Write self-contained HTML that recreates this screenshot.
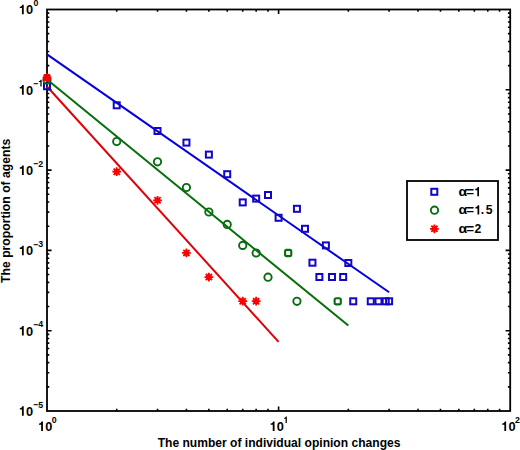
<!DOCTYPE html><html><head><meta charset="utf-8"><style>html,body{margin:0;padding:0;background:#fff;}svg{display:block}</style></head><body>
<svg width="520" height="450" viewBox="0 0 520 450" font-family="Liberation Sans, sans-serif" font-weight="bold">
<defs><path id="g1" d="M378 0V-710H268C254 -648 222 -610 160 -588C130 -578 100 -574 69 -572V-466H238V0Z"/></defs>
<rect width="520" height="450" fill="#fff"/>
<path d="M116.72 411.0v-2.3M116.72 9.5v2.3M157.50 411.0v-2.3M157.50 9.5v2.3M186.44 411.0v-2.3M186.44 9.5v2.3M208.88 411.0v-2.3M208.88 9.5v2.3M227.22 411.0v-2.3M227.22 9.5v2.3M242.72 411.0v-2.3M242.72 9.5v2.3M256.16 411.0v-2.3M256.16 9.5v2.3M268.00 411.0v-2.3M268.00 9.5v2.3M278.60 411.0v-4.6M278.60 9.5v4.6M348.32 411.0v-2.3M348.32 9.5v2.3M389.10 411.0v-2.3M389.10 9.5v2.3M418.04 411.0v-2.3M418.04 9.5v2.3M440.48 411.0v-2.3M440.48 9.5v2.3M458.82 411.0v-2.3M458.82 9.5v2.3M474.32 411.0v-2.3M474.32 9.5v2.3M487.76 411.0v-2.3M487.76 9.5v2.3M499.60 411.0v-2.3M499.60 9.5v2.3M47.0 386.83h2.3M510.2 386.83h-2.3M47.0 372.69h2.3M510.2 372.69h-2.3M47.0 362.65h2.3M510.2 362.65h-2.3M47.0 354.87h2.3M510.2 354.87h-2.3M47.0 348.51h2.3M510.2 348.51h-2.3M47.0 343.14h2.3M510.2 343.14h-2.3M47.0 338.48h2.3M510.2 338.48h-2.3M47.0 334.37h2.3M510.2 334.37h-2.3M47.0 330.70h4.6M510.2 330.70h-4.6M47.0 306.53h2.3M510.2 306.53h-2.3M47.0 292.39h2.3M510.2 292.39h-2.3M47.0 282.35h2.3M510.2 282.35h-2.3M47.0 274.57h2.3M510.2 274.57h-2.3M47.0 268.21h2.3M510.2 268.21h-2.3M47.0 262.84h2.3M510.2 262.84h-2.3M47.0 258.18h2.3M510.2 258.18h-2.3M47.0 254.07h2.3M510.2 254.07h-2.3M47.0 250.40h4.6M510.2 250.40h-4.6M47.0 226.23h2.3M510.2 226.23h-2.3M47.0 212.09h2.3M510.2 212.09h-2.3M47.0 202.05h2.3M510.2 202.05h-2.3M47.0 194.27h2.3M510.2 194.27h-2.3M47.0 187.91h2.3M510.2 187.91h-2.3M47.0 182.54h2.3M510.2 182.54h-2.3M47.0 177.88h2.3M510.2 177.88h-2.3M47.0 173.77h2.3M510.2 173.77h-2.3M47.0 170.10h4.6M510.2 170.10h-4.6M47.0 145.93h2.3M510.2 145.93h-2.3M47.0 131.79h2.3M510.2 131.79h-2.3M47.0 121.75h2.3M510.2 121.75h-2.3M47.0 113.97h2.3M510.2 113.97h-2.3M47.0 107.61h2.3M510.2 107.61h-2.3M47.0 102.24h2.3M510.2 102.24h-2.3M47.0 97.58h2.3M510.2 97.58h-2.3M47.0 93.47h2.3M510.2 93.47h-2.3M47.0 89.80h4.6M510.2 89.80h-4.6M47.0 65.63h2.3M510.2 65.63h-2.3M47.0 51.49h2.3M510.2 51.49h-2.3M47.0 41.45h2.3M510.2 41.45h-2.3M47.0 33.67h2.3M510.2 33.67h-2.3M47.0 27.31h2.3M510.2 27.31h-2.3M47.0 21.94h2.3M510.2 21.94h-2.3M47.0 17.28h2.3M510.2 17.28h-2.3M47.0 13.17h2.3M510.2 13.17h-2.3" stroke="#000" stroke-width="1.6" fill="none"/>
<rect x="47.0" y="9.5" width="463.20" height="401.50" fill="none" stroke="#000" stroke-width="1.8"/>
<use href="#g1" transform="translate(18.90 14.35) scale(0.01280 0.01344)"/><text transform="translate(26.02 14.35) scale(1 1.05)" font-size="12.8">0</text>
<text transform="translate(33.60 5.60) scale(1 1.05)" font-size="8.8">0</text>
<use href="#g1" transform="translate(18.90 94.65) scale(0.01280 0.01344)"/><text transform="translate(26.02 94.65) scale(1 1.05)" font-size="12.8">0</text>
<text transform="translate(33.20 86.90) scale(1 1.05)" font-size="8.8">−</text>
<use href="#g1" transform="translate(38.30 86.40) scale(0.00880 0.00924)"/>
<use href="#g1" transform="translate(18.90 174.95) scale(0.01280 0.01344)"/><text transform="translate(26.02 174.95) scale(1 1.05)" font-size="12.8">0</text>
<text transform="translate(33.20 167.20) scale(1 1.05)" font-size="8.8">−</text>
<text transform="translate(38.20 166.70) scale(1 1.05)" font-size="8.8">2</text>
<use href="#g1" transform="translate(18.90 255.25) scale(0.01280 0.01344)"/><text transform="translate(26.02 255.25) scale(1 1.05)" font-size="12.8">0</text>
<text transform="translate(33.20 247.50) scale(1 1.05)" font-size="8.8">−</text>
<text transform="translate(38.20 247.00) scale(1 1.05)" font-size="8.8">3</text>
<use href="#g1" transform="translate(18.90 335.55) scale(0.01280 0.01344)"/><text transform="translate(26.02 335.55) scale(1 1.05)" font-size="12.8">0</text>
<text transform="translate(33.20 327.80) scale(1 1.05)" font-size="8.8">−</text>
<text transform="translate(38.20 327.30) scale(1 1.05)" font-size="8.8">4</text>
<use href="#g1" transform="translate(18.90 415.85) scale(0.01280 0.01344)"/><text transform="translate(26.02 415.85) scale(1 1.05)" font-size="12.8">0</text>
<text transform="translate(33.20 408.10) scale(1 1.05)" font-size="8.8">−</text>
<text transform="translate(38.20 407.60) scale(1 1.05)" font-size="8.8">5</text>
<use href="#g1" transform="translate(38.10 431.10) scale(0.01280 0.01344)"/><text transform="translate(45.22 431.10) scale(1 1.05)" font-size="12.8">0</text>
<text transform="translate(51.80 423.00) scale(1 1.05)" font-size="8.8">0</text>
<use href="#g1" transform="translate(269.70 431.10) scale(0.01280 0.01344)"/><text transform="translate(276.82 431.10) scale(1 1.05)" font-size="12.8">0</text>
<use href="#g1" transform="translate(283.50 423.10) scale(0.00880 0.00924)"/>
<use href="#g1" transform="translate(501.30 431.10) scale(0.01280 0.01344)"/><text transform="translate(508.42 431.10) scale(1 1.05)" font-size="12.8">0</text>
<text transform="translate(515.00 423.00) scale(1 1.05)" font-size="8.8">2</text>
<text transform="translate(279.05 446.70) scale(1 1.05)" font-size="12.08" text-anchor="middle">The number of individual opinion changes</text>
<text transform="translate(9.60 210.80) rotate(-90) scale(1 1.05)" font-size="12.2" text-anchor="middle">The proportion of agents</text>
<line x1="47.00" y1="54.40" x2="389.10" y2="292.30" stroke="#0600dc" stroke-width="2.0"/>
<line x1="47.00" y1="79.50" x2="348.32" y2="325.60" stroke="#046e08" stroke-width="2.0"/>
<line x1="47.00" y1="86.50" x2="278.60" y2="341.80" stroke="#dc0408" stroke-width="2.0"/>
<rect x="44.00" y="83.20" width="6" height="6" fill="none" stroke="#1206c8" stroke-width="2"/>
<rect x="113.72" y="102.30" width="6" height="6" fill="none" stroke="#1206c8" stroke-width="2"/>
<rect x="154.50" y="128.00" width="6" height="6" fill="none" stroke="#1206c8" stroke-width="2"/>
<rect x="183.44" y="139.60" width="6" height="6" fill="none" stroke="#1206c8" stroke-width="2"/>
<rect x="205.88" y="151.60" width="6" height="6" fill="none" stroke="#1206c8" stroke-width="2"/>
<rect x="224.22" y="171.20" width="6" height="6" fill="none" stroke="#1206c8" stroke-width="2"/>
<rect x="239.72" y="199.40" width="6" height="6" fill="none" stroke="#1206c8" stroke-width="2"/>
<rect x="253.16" y="195.60" width="6" height="6" fill="none" stroke="#1206c8" stroke-width="2"/>
<rect x="265.00" y="192.00" width="6" height="6" fill="none" stroke="#1206c8" stroke-width="2"/>
<rect x="275.60" y="214.80" width="6" height="6" fill="none" stroke="#1206c8" stroke-width="2"/>
<rect x="293.94" y="205.80" width="6" height="6" fill="none" stroke="#1206c8" stroke-width="2"/>
<rect x="301.99" y="225.80" width="6" height="6" fill="none" stroke="#1206c8" stroke-width="2"/>
<rect x="309.44" y="259.70" width="6" height="6" fill="none" stroke="#1206c8" stroke-width="2"/>
<rect x="316.38" y="274.00" width="6" height="6" fill="none" stroke="#1206c8" stroke-width="2"/>
<rect x="322.87" y="242.40" width="6" height="6" fill="none" stroke="#1206c8" stroke-width="2"/>
<rect x="328.97" y="274.00" width="6" height="6" fill="none" stroke="#1206c8" stroke-width="2"/>
<rect x="340.16" y="274.00" width="6" height="6" fill="none" stroke="#1206c8" stroke-width="2"/>
<rect x="345.32" y="260.00" width="6" height="6" fill="none" stroke="#1206c8" stroke-width="2"/>
<rect x="350.23" y="298.30" width="6" height="6" fill="none" stroke="#1206c8" stroke-width="2"/>
<rect x="367.76" y="298.30" width="6" height="6" fill="none" stroke="#1206c8" stroke-width="2"/>
<rect x="375.50" y="298.30" width="6" height="6" fill="none" stroke="#1206c8" stroke-width="2"/>
<rect x="382.69" y="298.30" width="6" height="6" fill="none" stroke="#1206c8" stroke-width="2"/>
<rect x="386.10" y="298.30" width="6" height="6" fill="none" stroke="#1206c8" stroke-width="2"/>
<circle cx="47.00" cy="80.00" r="3.65" fill="none" stroke="#086c10" stroke-width="1.9"/>
<circle cx="116.72" cy="141.50" r="3.65" fill="none" stroke="#086c10" stroke-width="1.9"/>
<circle cx="157.50" cy="161.80" r="3.65" fill="none" stroke="#086c10" stroke-width="1.9"/>
<circle cx="186.44" cy="187.50" r="3.65" fill="none" stroke="#086c10" stroke-width="1.9"/>
<circle cx="208.88" cy="212.00" r="3.65" fill="none" stroke="#086c10" stroke-width="1.9"/>
<circle cx="227.22" cy="224.40" r="3.65" fill="none" stroke="#086c10" stroke-width="1.9"/>
<circle cx="242.72" cy="245.40" r="3.65" fill="none" stroke="#086c10" stroke-width="1.9"/>
<circle cx="256.16" cy="253.00" r="3.65" fill="none" stroke="#086c10" stroke-width="1.9"/>
<circle cx="268.00" cy="277.20" r="3.65" fill="none" stroke="#086c10" stroke-width="1.9"/>
<rect x="285.09" y="249.90" width="6.2" height="6.2" rx="1.6" fill="none" stroke="#086c10" stroke-width="2.1"/>
<circle cx="296.94" cy="301.30" r="3.65" fill="none" stroke="#086c10" stroke-width="1.9"/>
<rect x="334.62" y="298.20" width="6.2" height="6.2" rx="1.6" fill="none" stroke="#086c10" stroke-width="2.1"/>
<path d="M42.60 77.60h8.8M47.00 73.20v8.8M43.89 74.49l6.22 6.22M43.89 80.71l6.22 -6.22" stroke="#fa0000" stroke-width="1.8"/><circle cx="47.00" cy="77.60" r="2.9" fill="#fa0000"/>
<circle cx="47.00" cy="77.60" r="3.9" fill="#fa0000"/>
<path d="M112.32 171.70h8.8M116.72 167.30v8.8M113.61 168.59l6.22 6.22M113.61 174.81l6.22 -6.22" stroke="#fa0000" stroke-width="1.8"/><circle cx="116.72" cy="171.70" r="2.9" fill="#fa0000"/>
<path d="M153.10 200.30h8.8M157.50 195.90v8.8M154.39 197.19l6.22 6.22M154.39 203.41l6.22 -6.22" stroke="#fa0000" stroke-width="1.8"/><circle cx="157.50" cy="200.30" r="2.9" fill="#fa0000"/>
<path d="M182.04 252.90h8.8M186.44 248.50v8.8M183.33 249.79l6.22 6.22M183.33 256.01l6.22 -6.22" stroke="#fa0000" stroke-width="1.8"/><circle cx="186.44" cy="252.90" r="2.9" fill="#fa0000"/>
<path d="M204.48 277.10h8.8M208.88 272.70v8.8M205.77 273.99l6.22 6.22M205.77 280.21l6.22 -6.22" stroke="#fa0000" stroke-width="1.8"/><circle cx="208.88" cy="277.10" r="2.9" fill="#fa0000"/>
<path d="M238.32 301.20h8.8M242.72 296.80v8.8M239.61 298.09l6.22 6.22M239.61 304.31l6.22 -6.22" stroke="#fa0000" stroke-width="1.8"/><circle cx="242.72" cy="301.20" r="2.9" fill="#fa0000"/>
<path d="M251.76 301.20h8.8M256.16 296.80v8.8M253.04 298.09l6.22 6.22M253.04 304.31l6.22 -6.22" stroke="#fa0000" stroke-width="1.8"/><circle cx="256.16" cy="301.20" r="2.9" fill="#fa0000"/>
<rect x="407" y="181" width="91" height="59" fill="#fff" stroke="#000" stroke-width="1.8"/>
<rect x="431.30" y="188.80" width="6" height="6" fill="none" stroke="#1206c8" stroke-width="2"/>
<circle cx="434.50" cy="210.20" r="3.65" fill="none" stroke="#086c10" stroke-width="1.9"/>
<path d="M430.00 228.80h8.8M434.40 224.40v8.8M431.29 225.69l6.22 6.22M431.29 231.91l6.22 -6.22" stroke="#fa0000" stroke-width="1.8"/><circle cx="434.40" cy="228.80" r="2.9" fill="#fa0000"/>
<text transform="translate(458.5 196.2) scale(1.17 1.05)" font-size="12.2">α</text>
<text transform="translate(466.2 196.2) scale(1.1 1.05)" font-size="12.2">=</text>
<use href="#g1" transform="translate(474.40 196.20) scale(0.01220 0.01281)"/>
<text transform="translate(458.5 214.4) scale(1.17 1.05)" font-size="12.2">α</text>
<text transform="translate(466.2 214.4) scale(1.1 1.05)" font-size="12.2">=</text>
<use href="#g1" transform="translate(474.60 214.40) scale(0.01220 0.01281)"/>
<text transform="translate(480.80 214.40) scale(1 1.05)" font-size="12.2">.</text>
<text transform="translate(485.80 214.40) scale(1 1.05)" font-size="12.2">5</text>
<text transform="translate(458.5 233.0) scale(1.17 1.05)" font-size="12.2">α</text>
<text transform="translate(466.2 233.0) scale(1.1 1.05)" font-size="12.2">=</text>
<text transform="translate(474.40 233.00) scale(1 1.05)" font-size="12.2">2</text>
</svg></body></html>
